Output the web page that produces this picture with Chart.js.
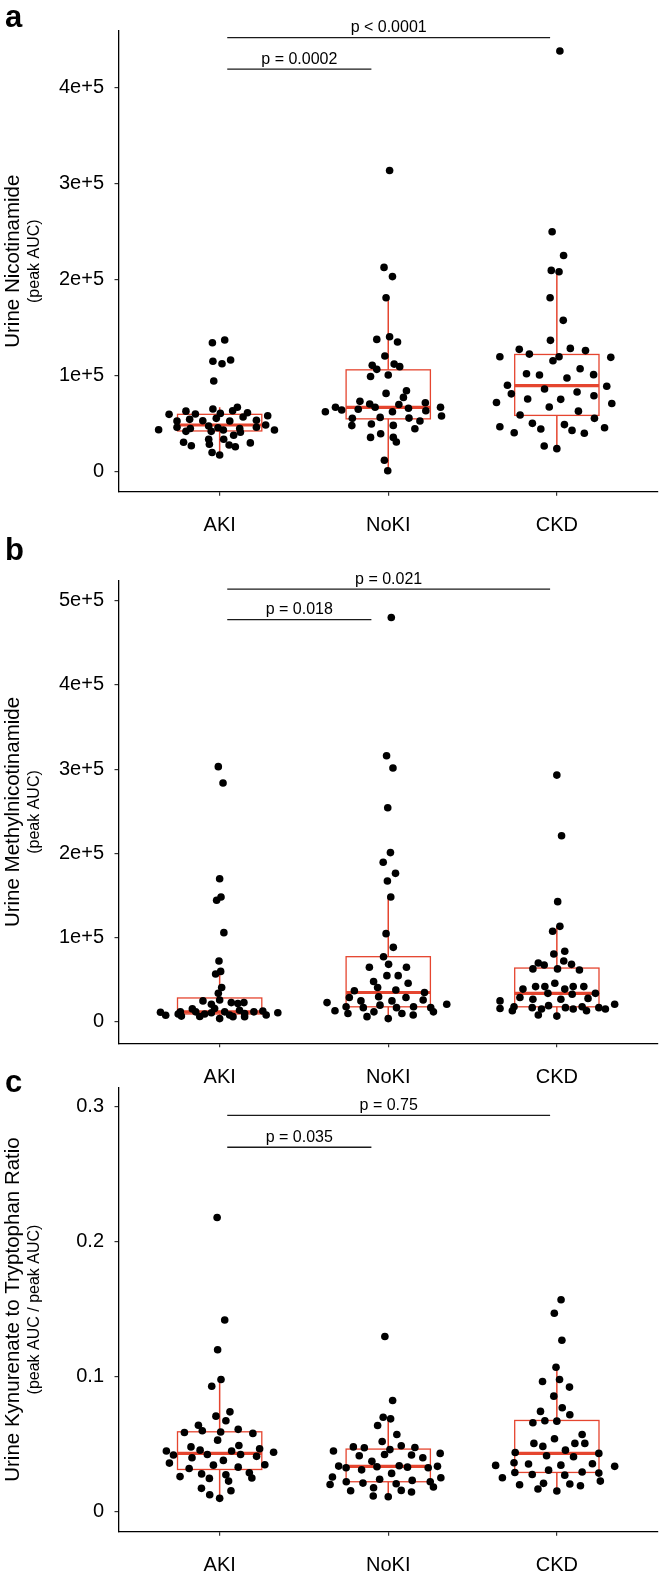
<!DOCTYPE html>
<html><head><meta charset="utf-8">
<script src="https://cdn.jsdelivr.net/npm/chart.js@4/dist/chart.umd.min.js"></script>
<style>
html,body{margin:0;padding:0;background:#fff;}
body{width:664px;height:1579px;position:relative;overflow:hidden;}
canvas{position:absolute;left:0;}
</style></head><body>
<canvas id="pa" width="664" height="545" style="top:0px"></canvas>
<canvas id="pb" width="664" height="560" style="top:535px"></canvas>
<canvas id="pc" width="664" height="519" style="top:1060px"></canvas>
<script>
// ---------- categories ----------
const categories = ['AKI', 'NoKI', 'CKD'];

// ---------- panel a: Urine Nicotinamide ----------
const nicAKI = [134200,137000,114900,112400,116200,94400,59700,43700,52700,46200,63000,60000,54500,42000,45000,53000,47500,65200,42000,55500,60700,45800,43400,52700,63500,67000,45000,41000,57000,61400,38000,53500,46200,48600,58300,43400,30600,27000,33700,28500,33700,27800,26000,30000,20000,17400];
const nicAKIJitter = [-0.043,0.03,-0.04,0.014,0.065,-0.035,-0.30,-0.362,-0.253,-0.253,-0.2,-0.144,-0.178,-0.2,-0.174,-0.1,-0.065,-0.04,-0.05,-0.02,0.004,-0.01,0.022,0.06,0.077,0.105,0.119,0.123,0.139,0.165,0.083,0.218,0.218,0.273,0.285,0.325,-0.214,-0.168,-0.065,-0.061,0.024,0.056,0.093,0.182,-0.045,0.0];
const nicNoKI = [313500,212600,203000,181000,137700,140500,135000,120400,110700,106500,112000,109300,99000,100600,81500,84300,77300,73200,62400,67000,64200,70400,67000,70000,71800,65000,66000,63500,67000,58000,62400,55500,56500,55800,52700,48000,49600,48200,44700,39500,35700,35700,30900,12000,1000];
const nicNoKIJitter = [0.008,-0.025,0.025,-0.013,-0.068,0.008,0.055,-0.02,-0.095,-0.068,0.035,0.068,-0.105,0,-0.013,0.108,0.09,-0.168,-0.373,-0.313,-0.276,-0.11,-0.078,0.063,0.22,-0.178,0.12,0.223,0.31,0.316,0.025,-0.213,-0.048,0.123,0.188,-0.216,-0.1,0.03,0.158,-0.045,-0.105,0.03,0.048,-0.023,-0.003];
const nicCKD = [437700,249700,225000,209500,208000,181000,157500,136700,127300,128300,126000,119700,122400,119000,115500,119700,107200,102000,100600,97500,101000,90000,89000,86000,83000,81000,79000,75600,75300,72000,71000,67300,63000,59000,55500,50300,49000,46800,44400,43000,45800,40600,40000,26700,24000];
const nicCKDJitter = [0.018,-0.028,0.04,-0.033,0.013,-0.04,0.038,-0.038,-0.223,0.08,0.17,-0.338,-0.163,0.32,-0.023,0.013,0.138,-0.18,-0.103,0.06,0.218,-0.293,0.296,-0.073,0.12,-0.27,0.22,-0.173,0.023,-0.358,0.326,-0.045,0.128,-0.218,0.223,-0.145,0.045,-0.338,-0.095,0.09,0.283,-0.253,0.163,-0.075,0];
const nicQ1 = [42400, 55000, 58600];
const nicMedian = [48600, 67000, 89500];
const nicQ3 = [59700, 106000, 122000];
const nicWhiskerLow = [17400, 1000, 24000];
const nicWhiskerHigh = [67000, 181000, 209500];
const nicTicks = [0, 100000, 200000, 300000, 400000];
const nicTickLabels = ['0', '1e+5', '2e+5', '3e+5', '4e+5'];
const nicBracketY = [419000, 451600];
const nicBracketEnd = [1.90, 2.96];
const nicPLabels = ['p = 0.0002', 'p < 0.0001'];

// ---------- panel b: Urine Methylnicotinamide ----------
const methAKI = [303000,283600,170000,144400,148300,106000,72400,57000,60000,41000,34000,25000,21000,26000,23000,22000,23000,11500,8000,9500,7000,12000,15500,12000,6500,9500,11000,16000,4000,12000,8300,6300,14000,6300,10000,12000,13000,8300,11000];
const methAKIJitter = [-0.008,0.02,0,-0.018,0.008,0.025,-0.004,-0.024,0.006,0.012,-0.008,-0.099,-0.049,0,0.069,0.108,0.144,-0.351,-0.32,-0.246,-0.227,-0.233,-0.162,-0.142,-0.118,-0.089,-0.049,-0.03,0,0.03,0.059,0.079,0.118,0.148,0.148,0.203,0.256,0.276,0.345];
const methNoKI = [480000,316000,301400,254300,201000,189500,176400,167300,148300,104800,88600,77500,65000,68400,65000,55000,55000,48000,46000,41000,38000,37000,35000,29000,25000,30000,25000,29000,26000,23000,21000,18000,17000,20000,17000,18000,17000,13400,10000,12000,10000,8300,12000,6300,4000];
const methNoKIJitter = [0.018,-0.01,0.028,-0.003,0.013,-0.03,0.043,-0.005,0.015,-0.013,0.03,-0.028,-0.112,0.002,0.108,-0.008,0.059,-0.087,0.118,-0.063,0.045,-0.201,0.215,-0.231,-0.162,-0.057,0.022,0.105,0.207,-0.363,0.347,-0.25,-0.148,-0.049,0.049,0.15,0.252,-0.316,-0.239,-0.085,0.081,0.148,0.268,-0.126,0];
const methCKD = [293000,221000,142800,113500,107600,80700,84000,70000,67600,72400,68400,63000,63000,61700,46000,39000,42000,42000,39000,42000,42000,34000,33000,34000,29000,27000,27000,28000,25000,16000,18000,13400,17000,15400,19400,17000,15400,18000,13400,17000,15400,21000,8300,7000];
const methCKDJitter = [0,0.028,0.005,0.018,-0.025,-0.018,0.047,-0.11,-0.075,0.041,0.087,-0.142,0.004,0.134,-0.012,-0.201,-0.126,-0.071,0.047,0.097,0.16,-0.053,0.091,0.229,-0.219,-0.142,0.024,0.185,-0.337,-0.337,-0.254,-0.264,-0.146,-0.091,-0.049,0.051,0.097,0.15,0.176,0.249,0.288,0.343,-0.11,0];
const methQ1 = [9500, 18000, 18000];
const methMedian = [12000, 35000, 34000];
const methQ3 = [28500, 77500, 64000];
const methWhiskerLow = [4000, 4000, 7000];
const methWhiskerHigh = [57000, 148300, 113500];
const methTicks = [0, 100000, 200000, 300000, 400000, 500000];
const methTickLabels = ['0', '1e+5', '2e+5', '3e+5', '4e+5', '5e+5'];
const methBracketY = [477500, 513800];
const methBracketEnd = [1.90, 2.96];
const methPLabels = ['p = 0.018', 'p = 0.021'];

// ---------- panel c: Kynurenate / Tryptophan ----------
const kynAKI = [0.218,0.142,0.120,0.093,0.098,0.0708,0.074,0.0674,0.064,0.060,0.0587,0.059,0.061,0.058,0.053,0.048,0.049,0.045,0.042,0.0456,0.0424,0.045,0.0424,0.0466,0.041,0.044,0.040,0.036,0.038,0.0345,0.0348,0.033,0.032,0.026,0.028,0.0247,0.0274,0.0227,0.0289,0.025,0.0173,0.0155,0.0126,0.0099];
const kynAKIJitter = [-0.015,0.03,-0.012,-0.047,0.008,-0.022,0.061,0.037,-0.126,-0.103,-0.209,0.006,0.11,0.197,-0.012,-0.17,0.114,-0.316,-0.274,-0.116,-0.073,0.071,0.124,0.237,0.219,0.32,-0.164,-0.298,0.022,-0.037,0.268,0.11,-0.181,-0.235,-0.107,-0.061,0.037,0.053,0.176,0.191,-0.108,0.067,-0.059,0];
const kynNoKI = [0.1298,0.0824,0.070,0.0688,0.0639,0.052,0.0572,0.045,0.048,0.0474,0.046,0.0489,0.0476,0.0432,0.0415,0.0424,0.042,0.040,0.0373,0.0333,0.0338,0.0326,0.031,0.034,0.033,0.0336,0.0284,0.0326,0.0257,0.0222,0.0212,0.024,0.0207,0.0232,0.0252,0.0222,0.0202,0.0183,0.0155,0.0178,0.0158,0.0146,0.0116,0.0111];
const kynNoKIJitter = [-0.02,0.026,-0.03,0.014,-0.063,-0.036,0.051,-0.325,-0.207,-0.142,0.01,0.077,0.158,0.308,-0.172,-0.022,0.138,0.205,-0.097,-0.067,-0.294,-0.25,-0.158,0.065,0.114,0.292,0.02,0.237,-0.331,-0.249,-0.15,-0.051,0.047,0.142,0.312,0.249,-0.345,0.268,-0.223,-0.087,0.077,0.138,-0.089,0];
const kynCKD = [0.157,0.147,0.127,0.107,0.0965,0.098,0.0923,0.0856,0.077,0.0743,0.0718,0.0659,0.0674,0.0671,0.054,0.0572,0.0506,0.0484,0.0506,0.0506,0.0439,0.0456,0.0432,0.0415,0.0407,0.0363,0.0353,0.0345,0.0355,0.0343,0.0336,0.0308,0.0294,0.0291,0.0276,0.0271,0.0286,0.0252,0.0227,0.020,0.021,0.0205,0.0192,0.0168,0.0153];
const kynCKDJitter = [0.025,-0.015,0.03,-0.005,-0.085,0.016,0.075,-0.018,0.032,-0.097,0.077,-0.142,-0.071,0,-0.014,0.15,-0.136,-0.083,0.107,0.166,-0.247,0.051,0.249,-0.061,0.099,-0.254,-0.168,0.024,0.211,-0.363,0.343,-0.049,0.15,-0.249,-0.146,0.047,0.249,-0.323,0.258,-0.221,-0.079,0.077,0.14,-0.112,0];
const kynQ1 = [0.0313, 0.0222, 0.0291];
const kynMedian = [0.0432, 0.0336, 0.0432];
const kynQ3 = [0.0592, 0.0464, 0.0676];
const kynWhiskerLow = [0.0099, 0.0111, 0.0153];
const kynWhiskerHigh = [0.098, 0.0688, 0.107];
const kynTicks = [0, 0.1, 0.2, 0.3];
const kynTickLabels = ['0', '0.1', '0.2', '0.3'];
const kynBracketY = [0.270, 0.2936];
const kynBracketEnd = [1.90, 2.96];
const kynPLabels = ['p = 0.035', 'p = 0.75'];

// ---------- drawing ----------
const FONT = "'Liberation Sans', Arial, Helvetica, sans-serif";
const BOX_COLOR = '#e5452f';
const BRACKET_START = 1.045;

function makePanel(id, p) {
  const groups = [[p.v[0], p.j[0]], [p.v[1], p.j[1]], [p.v[2], p.j[2]]];
  const dotSets = groups.map((g, gi) => ({
    type: 'scatter',
    data: g[0].map((val, k) => ({ x: gi + 1 + g[1][k], y: val })),
    backgroundColor: '#000', borderWidth: 0, pointRadius: 3.8, pointHoverRadius: 3.8, order: 0
  }));
  const bracketSets = p.bracketY.map((yv, bi) => ({
    type: 'line',
    data: [{ x: BRACKET_START, y: yv }, { x: p.bracketEnd[bi], y: yv }],
    borderColor: '#1a1a1a', borderWidth: 1.3, pointRadius: 0, fill: false, order: 1
  }));

  const boxPlugin = {
    id: 'boxes_' + id,
    beforeDatasetsDraw(chart) {
      const { ctx } = chart; const x = chart.scales.x, y = chart.scales.y;
      ctx.save(); ctx.strokeStyle = BOX_COLOR; ctx.lineCap = 'butt';
      p.q1.forEach((q1, i) => {
        const c = i + 1;
        const xl = x.getPixelForValue(c - 0.25), xr = x.getPixelForValue(c + 0.25), xc = x.getPixelForValue(c);
        const p1 = y.getPixelForValue(q1), p3 = y.getPixelForValue(p.q3[i]), pm = y.getPixelForValue(p.med[i]);
        const plo = y.getPixelForValue(p.lo[i]), phi = y.getPixelForValue(p.hi[i]);
        ctx.lineWidth = 1.5;
        ctx.beginPath(); ctx.moveTo(xc, p3); ctx.lineTo(xc, phi); ctx.moveTo(xc, p1); ctx.lineTo(xc, plo); ctx.stroke();
        ctx.lineWidth = 1.3;
        ctx.strokeRect(xl, p3, xr - xl, p1 - p3);
        ctx.lineWidth = 3.2;
        ctx.beginPath(); ctx.moveTo(xl, pm); ctx.lineTo(xr, pm); ctx.stroke();
      });
      ctx.restore();
    }
  };
  const textPlugin = {
    id: 'texts_' + id,
    afterDraw(chart) {
      const { ctx, chartArea } = chart; const x = chart.scales.x, y = chart.scales.y;
      ctx.save();
      ctx.fillStyle = '#000';
      ctx.font = '16px ' + FONT; ctx.textAlign = 'center'; ctx.textBaseline = 'alphabetic';
      p.bracketY.forEach((yv, bi) => {
        const mid = (BRACKET_START + p.bracketEnd[bi]) / 2;
        ctx.fillText(p.pLabels[bi], x.getPixelForValue(mid), y.getPixelForValue(yv) - 5.5);
      });
      ctx.save();
      ctx.translate(35, (chartArea.top + chartArea.bottom) / 2);
      ctx.rotate(-Math.PI / 2);
      ctx.font = '16px ' + FONT; ctx.textBaseline = 'middle'; ctx.textAlign = 'center';
      ctx.fillText(p.subtitle, 0, 0);
      ctx.restore();
      ctx.font = 'bold 31px ' + FONT; ctx.textAlign = 'left'; ctx.textBaseline = 'alphabetic';
      ctx.fillText(p.letter, 5, p.letterY);
      ctx.restore();
    }
  };

  return new Chart(document.getElementById(id), {
    type: 'scatter',
    data: { datasets: [...bracketSets, ...dotSets] },
    options: {
      responsive: false, animation: false, events: [],
      layout: { padding: { top: p.padTop, right: 6, bottom: 0, left: 0 } },
      plugins: { legend: { display: false }, tooltip: { enabled: false } },
      scales: {
        x: {
          type: 'linear', min: 0.4, max: 3.6,
          afterBuildTicks: s => { s.ticks = categories.map((c, i) => ({ value: i + 1 })); },
          afterFit: s => { s.height = p.xHeight; },
          ticks: { callback: v => categories[Math.round(v) - 1] || '', font: { family: FONT, size: 20 }, color: '#000', padding: 18, maxRotation: 0, autoSkip: false },
          grid: { drawOnChartArea: false, drawTicks: true, tickLength: 4, color: '#333', lineWidth: 1.2 },
          border: { display: true, color: '#000', width: 1.3 }
        },
        y: {
          type: 'linear', min: p.yMin, max: p.yMax,
          afterBuildTicks: s => { s.ticks = p.ticks.map(v => ({ value: v })); },
          afterFit: s => { s.width = 118.5; },
          ticks: { callback: v => { const i = p.ticks.indexOf(v); return i >= 0 ? p.tickLabels[i] : ''; }, font: { family: FONT, size: 20 }, color: '#000', padding: 10.5, autoSkip: false },
          grid: { drawOnChartArea: false, drawTicks: true, tickLength: 4, color: '#333', lineWidth: 1.2 },
          border: { display: true, color: '#000', width: 1.3 },
          title: { display: true, text: p.title, font: { family: FONT, size: 20.5 }, color: '#000', padding: { top: 0.7, bottom: 0 } }
        }
      }
    },
    plugins: [boxPlugin, textPlugin]
  });
}

makePanel('pa', {
  v: [nicAKI, nicNoKI, nicCKD], j: [nicAKIJitter, nicNoKIJitter, nicCKDJitter],
  q1: nicQ1, med: nicMedian, q3: nicQ3, lo: nicWhiskerLow, hi: nicWhiskerHigh,
  ticks: nicTicks, tickLabels: nicTickLabels, yMin: -20800, yMax: 458900,
  bracketY: nicBracketY, bracketEnd: nicBracketEnd, pLabels: nicPLabels,
  title: 'Urine Nicotinamide', subtitle: '(peak AUC)', letter: 'a', letterY: 27,
  padTop: 30.7, xHeight: 53.3
});
makePanel('pb', {
  v: [methAKI, methNoKI, methCKD], j: [methAKIJitter, methNoKIJitter, methCKDJitter],
  q1: methQ1, med: methMedian, q3: methQ3, lo: methWhiskerLow, hi: methWhiskerHigh,
  ticks: methTicks, tickLabels: methTickLabels, yMin: -25300, yMax: 523700,
  bracketY: methBracketY, bracketEnd: methBracketEnd, pLabels: methPLabels,
  title: 'Urine Methylnicotinamide', subtitle: '(peak AUC)', letter: 'b', letterY: 25,
  padTop: 45.7, xHeight: 51.7
});
makePanel('pc', {
  v: [kynAKI, kynNoKI, kynCKD], j: [kynAKIJitter, kynNoKIJitter, kynCKDJitter],
  q1: kynQ1, med: kynMedian, q3: kynQ3, lo: kynWhiskerLow, hi: kynWhiskerHigh,
  ticks: kynTicks, tickLabels: kynTickLabels, yMin: -0.0148, yMax: 0.3144,
  bracketY: kynBracketY, bracketEnd: kynBracketEnd, pLabels: kynPLabels,
  title: 'Urine Kynurenate to Tryptophan Ratio', subtitle: '(peak AUC / peak AUC)', letter: 'c', letterY: 32,
  padTop: 27.3, xHeight: 47.3
});
</script>
</body></html>
